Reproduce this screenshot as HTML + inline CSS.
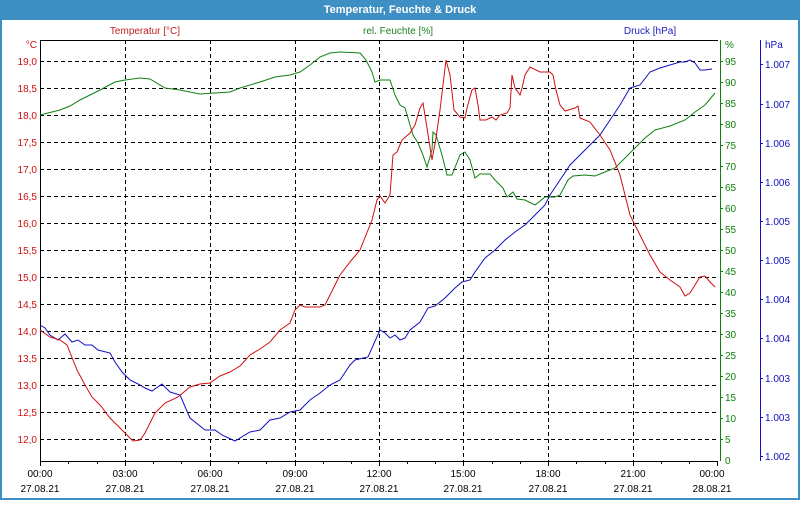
<!DOCTYPE html>
<html><head><meta charset="utf-8"><style>
body{margin:0;width:800px;height:500px;overflow:hidden;font-family:"Liberation Sans",sans-serif;}
</style></head><body>
<svg width="800" height="500" xmlns="http://www.w3.org/2000/svg" font-family="Liberation Sans, sans-serif" font-size="10">
<rect x="0" y="0" width="800" height="500" fill="#3d8fc4"/>
<rect x="2" y="20" width="796" height="478" fill="#ffffff"/>
<text x="400" y="13" fill="#fff" font-weight="bold" font-size="11" text-anchor="middle">Temperatur, Feuchte &amp; Druck</text>
<text x="145" y="34" fill="#c02020" text-anchor="middle">Temperatur [°C]</text>
<text x="398" y="34" fill="#208020" text-anchor="middle">rel. Feuchte [%]</text>
<text x="650" y="34" fill="#2020c0" text-anchor="middle">Druck [hPa]</text>
<g stroke="#000" stroke-dasharray="4,3" stroke-width="1">
<line x1="40" x2="718" y1="61.5" y2="61.5"/><line x1="40" x2="718" y1="88.5" y2="88.5"/><line x1="40" x2="718" y1="115.5" y2="115.5"/><line x1="40" x2="718" y1="142.5" y2="142.5"/><line x1="40" x2="718" y1="169.5" y2="169.5"/><line x1="40" x2="718" y1="196.5" y2="196.5"/><line x1="40" x2="718" y1="223.5" y2="223.5"/><line x1="40" x2="718" y1="250.5" y2="250.5"/><line x1="40" x2="718" y1="277.5" y2="277.5"/><line x1="40" x2="718" y1="304.5" y2="304.5"/><line x1="40" x2="718" y1="331.5" y2="331.5"/><line x1="40" x2="718" y1="358.5" y2="358.5"/><line x1="40" x2="718" y1="385.5" y2="385.5"/><line x1="40" x2="718" y1="412.5" y2="412.5"/><line x1="40" x2="718" y1="439.5" y2="439.5"/>
<line y1="40" y2="461" x1="125.5" x2="125.5"/><line y1="40" y2="461" x1="210.5" x2="210.5"/><line y1="40" y2="461" x1="295.5" x2="295.5"/><line y1="40" y2="461" x1="379.5" x2="379.5"/><line y1="40" y2="461" x1="463.5" x2="463.5"/><line y1="40" y2="461" x1="548.5" x2="548.5"/><line y1="40" y2="461" x1="633.5" x2="633.5"/>
</g>
<line x1="40" x2="718" y1="40.5" y2="40.5" stroke="#000"/>
<line x1="40.5" x2="40.5" y1="40" y2="461" stroke="#000"/>
<line x1="40" x2="718" y1="461.5" y2="461.5" stroke="#000"/>
<g stroke="#000">
<path d="M40.5 461v5M125.5 461v5M210.5 461v5M295.5 461v5M379.5 461v5M463.5 461v5M548.5 461v5M633.5 461v5M717.5 461v5M68.5 461v3M97.5 461v3M153.5 461v3M181.5 461v3M238.5 461v3M266.5 461v3M323.5 461v3M351.5 461v3M407.5 461v3M435.5 461v3M492.5 461v3M520.5 461v3M576.5 461v3M605.5 461v3M661.5 461v3M689.5 461v3"/>
</g>
<line x1="720.5" x2="720.5" y1="40" y2="461" stroke="#108010"/>
<line x1="760.5" x2="760.5" y1="40" y2="461" stroke="#1010c0"/>
<g fill="#d01010" text-anchor="end">
<text x="37" y="48">°C</text>
<text x="37" y="65">19,0</text><text x="37" y="92">18,5</text><text x="37" y="119">18,0</text><text x="37" y="146">17,5</text><text x="37" y="173">17,0</text><text x="37" y="200">16,5</text><text x="37" y="227">16,0</text><text x="37" y="254">15,5</text><text x="37" y="281">15,0</text><text x="37" y="308">14,5</text><text x="37" y="335">14,0</text><text x="37" y="362">13,5</text><text x="37" y="389">13,0</text><text x="37" y="416">12,5</text><text x="37" y="443">12,0</text>
</g>
<g fill="#108010" stroke="none">
<text x="725" y="48">%</text>
<text x="725" y="65">95</text><text x="725" y="86">90</text><text x="725" y="107">85</text><text x="725" y="128">80</text><text x="725" y="149">75</text><text x="725" y="170">70</text><text x="725" y="191">65</text><text x="725" y="212">60</text><text x="725" y="233">55</text><text x="725" y="254">50</text><text x="725" y="275">45</text><text x="725" y="296">40</text><text x="725" y="317">35</text><text x="725" y="338">30</text><text x="725" y="359">25</text><text x="725" y="380">20</text><text x="725" y="401">15</text><text x="725" y="422">10</text><text x="725" y="443">5</text><text x="725" y="464">0</text>
</g>
<g stroke="#108010"><path d="M720 61.5h3M720 82.5h3M720 103.5h3M720 124.5h3M720 145.5h3M720 166.5h3M720 187.5h3M720 208.5h3M720 229.5h3M720 250.5h3M720 271.5h3M720 292.5h3M720 313.5h3M720 334.5h3M720 355.5h3M720 376.5h3M720 397.5h3M720 418.5h3M720 439.5h3"/></g>
<g fill="#1010c0">
<text x="765" y="48">hPa</text>
<text x="765" y="68">1.007</text><text x="765" y="108">1.007</text><text x="765" y="147">1.006</text><text x="765" y="186">1.006</text><text x="765" y="225">1.005</text><text x="765" y="264">1.005</text><text x="765" y="303">1.004</text><text x="765" y="342">1.004</text><text x="765" y="382">1.003</text><text x="765" y="421">1.003</text><text x="765" y="460">1.002</text>
</g>
<g stroke="#1010c0"><path d="M760 64.5h3M760 104.5h3M760 143.5h3M760 182.5h3M760 221.5h3M760 260.5h3M760 299.5h3M760 338.5h3M760 378.5h3M760 417.5h3M760 456.5h3"/></g>
<g fill="#000" text-anchor="middle">
<text x="40" y="477">00:00</text><text x="125" y="477">03:00</text><text x="210" y="477">06:00</text><text x="295" y="477">09:00</text><text x="379" y="477">12:00</text><text x="463" y="477">15:00</text><text x="548" y="477">18:00</text><text x="633" y="477">21:00</text><text x="712" y="477">00:00</text>
<text x="40" y="492">27.08.21</text><text x="125" y="492">27.08.21</text><text x="210" y="492">27.08.21</text><text x="295" y="492">27.08.21</text><text x="379" y="492">27.08.21</text><text x="463" y="492">27.08.21</text><text x="548" y="492">27.08.21</text><text x="633" y="492">27.08.21</text><text x="712" y="492">28.08.21</text>
</g>
<polyline fill="none" stroke="#108010" points="40,115 60,110 70,106 80,100 100,90 115,82 125,80 140,78 150,79 165,88 180,90 200,94 215,93 230,92 240,88 260,82 275,77 290,75 300,72 310,65 320,57 330,53 340,52 360,53 366,60 372,72 375,82 380,80 390,80 395,95 400,105 405,108 410,125 413,135 418,143 423,155 427,167 432,150 433,132 436,135 442,155 447,175 452,175 460,155 465,152 470,160 475,178 480,174 490,174 495,180 503,188 507,197 513,192 517,199 525,200 535,205 545,197 555,197 560,195 568,180 573,176 585,175 595,176 605,172 615,168 625,158 635,148 645,138 655,130 670,126 685,120 695,112 705,105 715,93"/>
<polyline fill="none" stroke="#1010c0" points="40,325 45,328 50,335 58,340 65,334 72,342 78,340 85,345 92,345 98,350 110,353 115,362 122,372 130,380 140,385 145,388 152,391 162,384 170,392 180,395 190,418 205,430 215,430 222,435 235,441 250,432 260,430 270,420 280,418 290,412 300,410 310,400 320,393 330,385 340,380 350,365 355,360 368,357 380,330 385,333 390,338 395,335 400,340 405,338 410,330 420,322 428,308 435,306 445,298 455,288 462,282 470,280 475,272 485,258 495,250 505,240 515,232 525,225 535,215 545,205 550,195 560,180 570,165 580,155 590,145 600,135 610,120 620,105 630,88 640,85 650,72 660,68 670,65 680,62 685,62 690,60 695,63 700,70 705,70 712,69"/>
<polyline fill="none" stroke="#d01010" points="40,330 50,337 60,340 67,345 73,360 77,370 85,385 92,397 100,405 110,418 120,428 127,435 133,441 140,440 145,433 155,413 165,403 178,397 190,387 200,384 210,383 220,376 230,372 240,366 250,355 260,349 270,342 280,330 290,323 295,310 300,305 305,307 320,307 325,305 330,295 340,275 350,262 360,250 372,220 377,200 380,196 385,203 390,195 393,155 397,152 402,140 410,133 415,125 420,108 423,103 427,128 432,160 436,138 440,110 446,60 450,75 454,110 460,117 465,118 467,108 472,90 475,88 478,105 480,120 486,120 492,117 496,120 500,115 507,113 510,108 512,75 515,88 520,95 522,88 525,75 530,67 540,72 550,72 553,75 556,90 560,105 565,111 575,108 578,106 580,118 590,122 600,135 610,150 620,175 625,195 630,215 640,235 650,255 660,272 670,280 680,287 685,296 690,293 695,285 700,277 705,276 710,282 715,287"/>
</svg>
</body></html>
